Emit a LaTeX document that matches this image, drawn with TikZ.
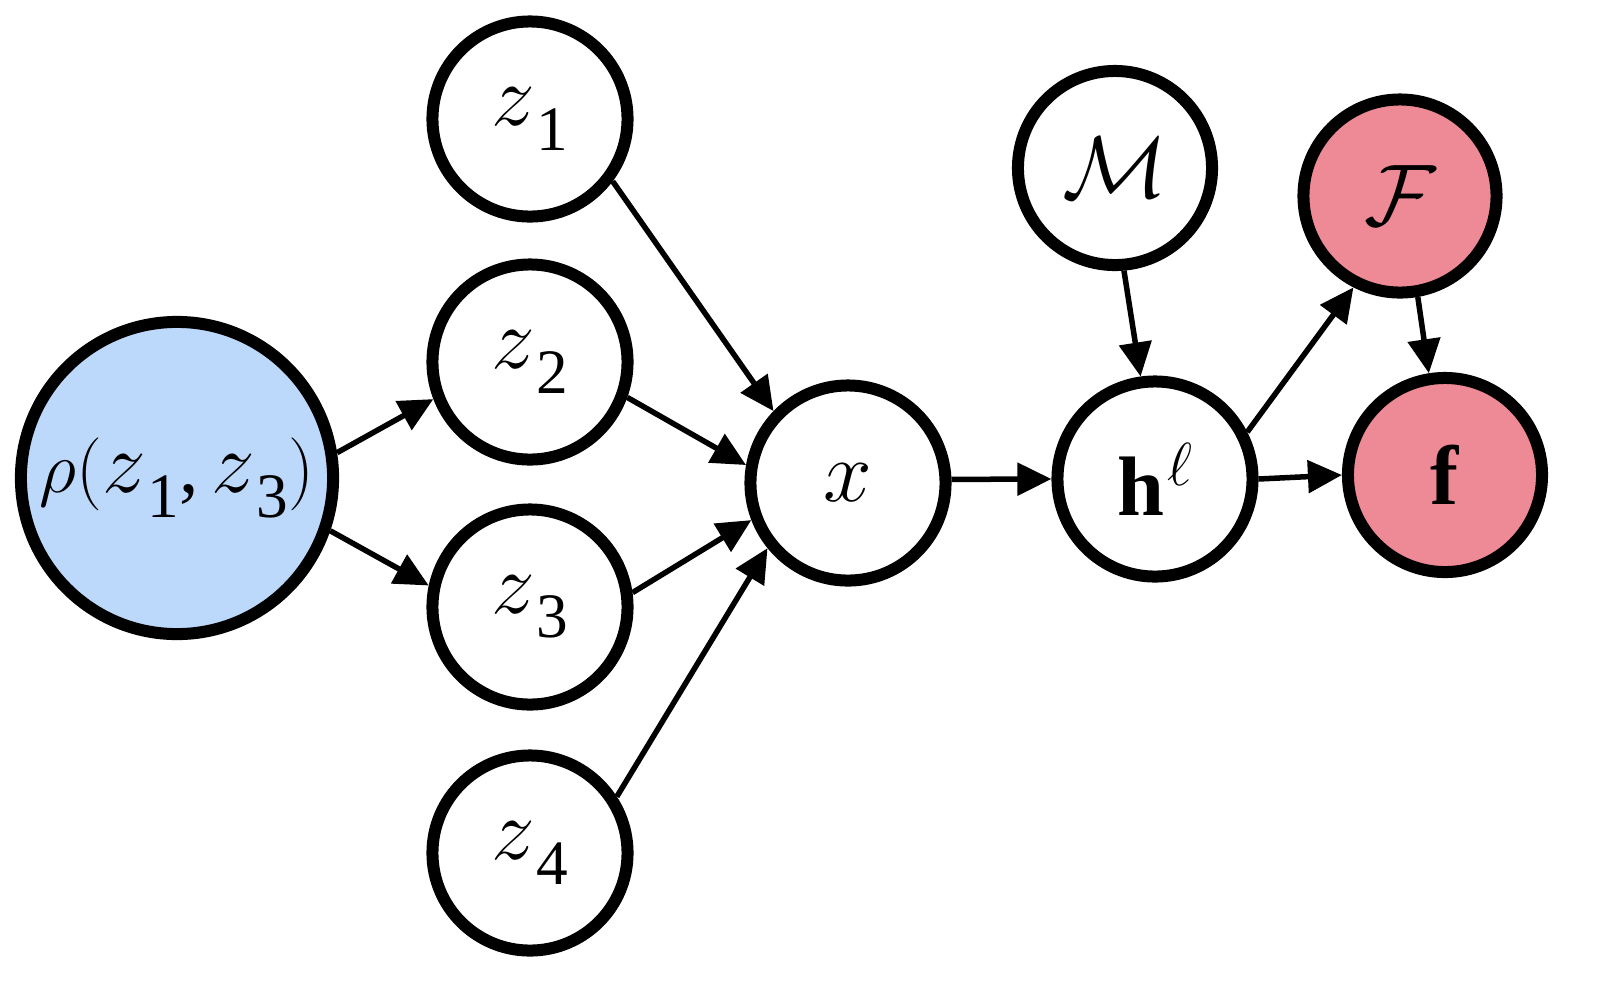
\documentclass[tikz,border=0pt]{standalone}
\usepackage{amsmath}
\usepackage{fontspec}
\setmainfont{Liberation Serif}
\usetikzlibrary{arrows.meta}
\definecolor{nodeblue}{HTML}{BCD9FC}
\definecolor{nodered}{HTML}{EE8A96}
\newcommand{\subdg}[1]{\raisebox{-7pt}{\fontsize{18}{20}\selectfont #1}}
\newcommand{\zs}[1]{{\fontsize{24.5}{28}\selectfont$z$}\kern0.5pt\subdg{#1}}
\newcommand{\calfont}{\fontsize{26.5}{30}\selectfont}
\newcommand{\bfsize}{\fontsize{24}{28}\selectfont}
\begin{document}
\begin{tikzpicture}[x=0.01cm,y=-0.01cm,
  nd/.style={circle,draw,line width=0.12cm,minimum size=1.95cm,inner sep=0pt,fill=white,font=\fontsize{22}{26}\selectfont},
  arr/.style={line width=0.055cm,-{Triangle[length=0.34cm,width=0.32cm]}}]
\useasboundingbox (0,0) rectangle (1602,996);
\node[nd,minimum size=3.12cm,fill=nodeblue] (rho) at (177,478) {$\rho($\zs{1},\,\zs{3}$)$};
\node[nd] (z1) at (530,119) {\zs{1}};
\node[nd] (z2) at (530,362) {\zs{2}};
\node[nd] (z3) at (530,607) {\zs{3}};
\node[nd] (z4) at (530,853) {\zs{4}};
\node[nd,font=\fontsize{23.5}{26}\selectfont] (x) at (848,483) {$x$};
\node[nd] (h) at (1155,479) {{\bfsize\textbf{h}}\hspace{1pt}\raisebox{8.5pt}{\fontsize{18}{20}\selectfont$\ell$}};
\node[nd,minimum size=1.94cm] (M) at (1115,168) {\calfont$\mathcal{M}$};
\node[nd,minimum size=1.93cm,fill=nodered] (F) at (1400,196) {\calfont$\mathcal{F}$};
\node[nd,minimum size=1.94cm,fill=nodered] (f) at (1445,475) {\bfsize\textbf{f}};
\draw[arr] (rho.9) -- (z2.201);
\draw[arr] (rho.-19) -- (z3.168);
\draw[arr] (z1.-37) -- (x.136);
\draw[arr] (z2.-20) -- (x.170);
\draw[arr] (z3.8) -- (x.201);
\draw[arr] (z4.33) -- (x.219);
\draw[arr] (x.2) -- (h.west);
\draw[arr] (M.-85) -- (h.98);
\draw[arr] (h.27) -- (F.243);
\draw[arr] (F.-80) -- (f.99);
\draw[arr] (h.east) -- (f.west);
\end{tikzpicture}
\end{document}
